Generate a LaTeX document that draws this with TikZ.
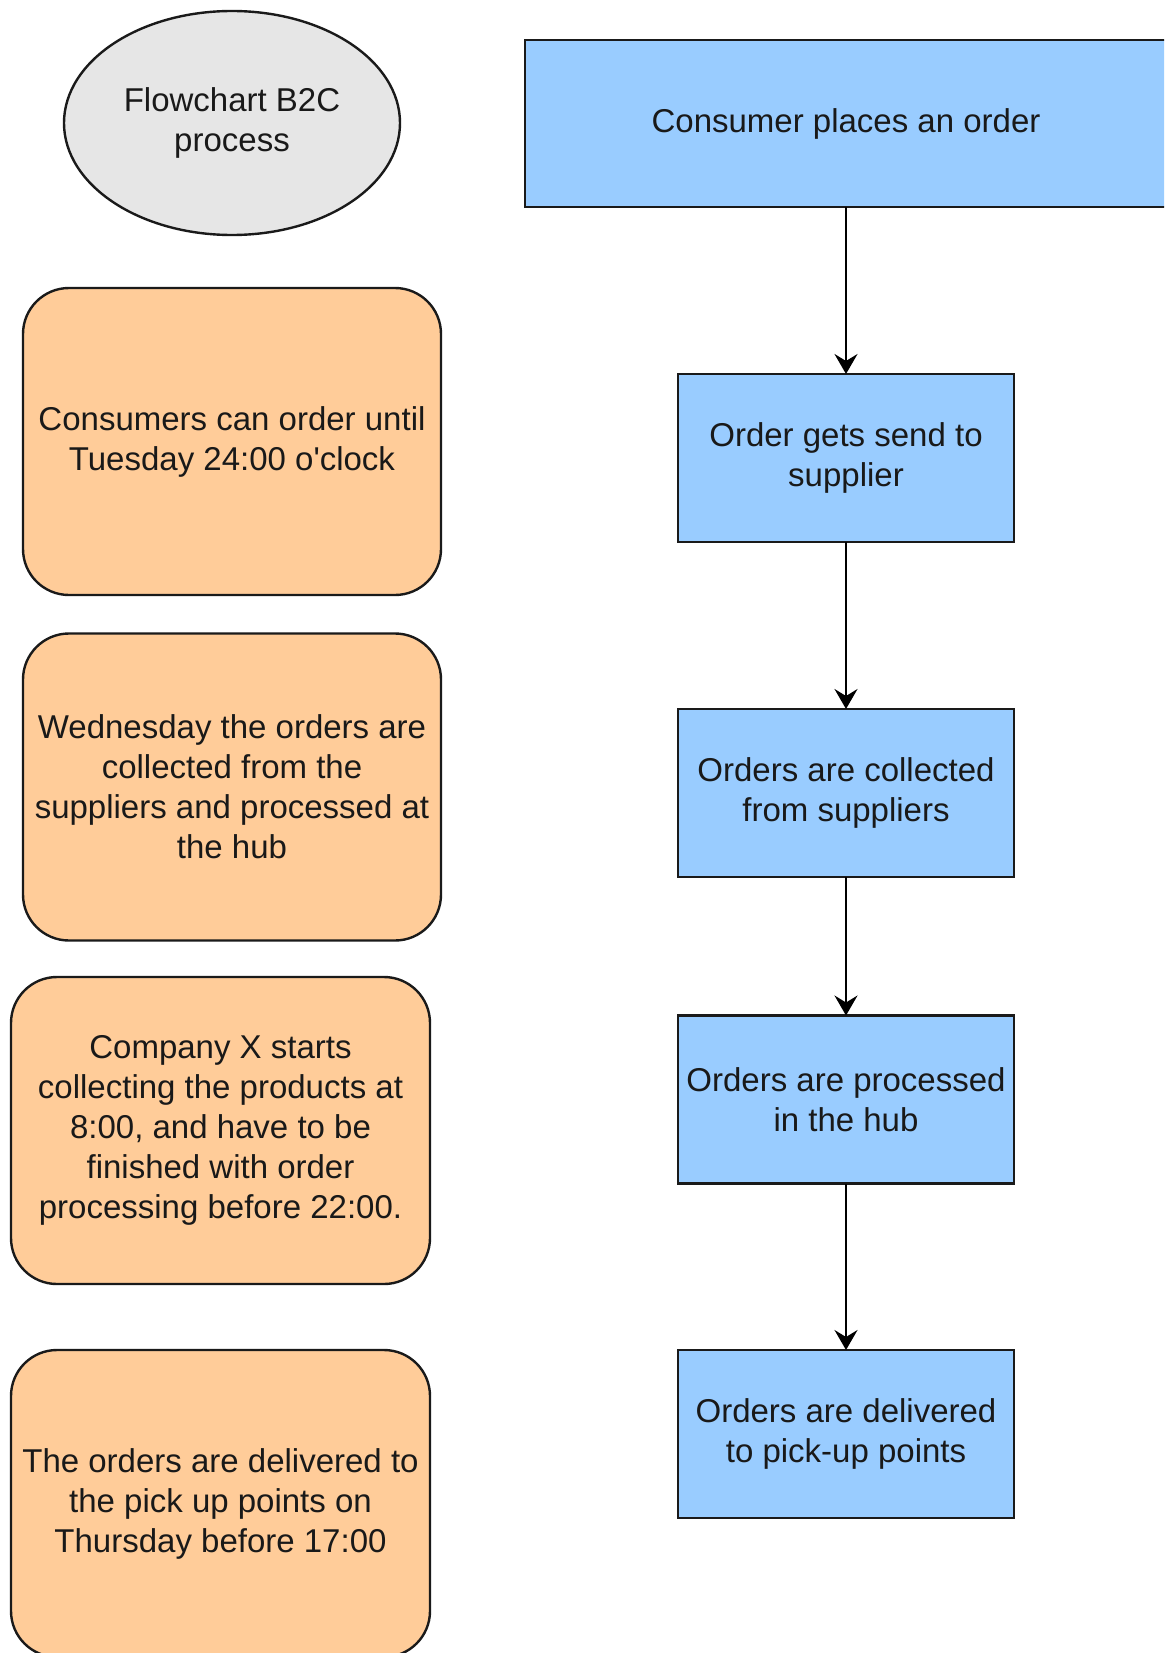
\documentclass[tikz,border=0pt]{standalone}
\usepackage{fontspec}
\newfontfamily\labelfont{Liberation Sans}
\usetikzlibrary{shapes.geometric,arrows.meta}
\definecolor{stepblue}{HTML}{99CCFF}
\definecolor{noteorange}{HTML}{FFCC99}
\definecolor{startgray}{HTML}{E6E6E6}
\definecolor{edgeline}{HTML}{1A1A1A}

\begin{document}
\begin{tikzpicture}[x=0.5pt,y=-0.5pt,
  every node/.style={font=\labelfont\fontsize{16.5}{20}\selectfont, text=black!90, align=center,
    inner sep=0pt, outer sep=0pt},
  stepbox/.style={draw=edgeline, line width=1.2pt, fill=stepblue, rectangle,
    minimum width=168pt, minimum height=84pt},
  notebox/.style={draw=edgeline, line width=1.2pt, fill=noteorange, rectangle,
    rounded corners=23pt, minimum width=209pt, minimum height=153.5pt},
  startnode/.style={draw=edgeline, line width=1.2pt, fill=startgray, ellipse,
    minimum width=168pt, minimum height=112pt},
  flow/.style={draw=black, line width=1.1pt, -{Stealth[length=10pt,width=11.5pt,inset=3.5pt]}}
]
\clip (0,0) rectangle (1164,1653);
\fill[white] (0,0) rectangle (1164,1653);

% title ellipse
\node[startnode] (title) at (232,123) {Flowchart B2C\\process};

% main process column
\node[stepbox, minimum width=321pt, minimum height=83.5pt] (order) at (846,123.5) {Consumer places an order};
\node[stepbox] (send) at (846,458) {Order gets send to\\supplier};
\node[stepbox] (collect) at (846,793) {Orders are collected\\from suppliers};
\node[stepbox] (hub) at (846,1099.5) {Orders are processed\\in the hub};
\node[stepbox] (deliver) at (846,1434) {Orders are delivered\\to pick-up points};

% timing notes
\node[notebox] (n1) at (232,441.5) {Consumers can order until\\Tuesday 24:00 o'clock};
\node[notebox] (n2) at (232,787) {Wednesday the orders are\\collected from the\\suppliers and processed at\\the hub};
\node[notebox, minimum width=209.5pt] (n3) at (220.5,1130.5) {Company X starts\\collecting the products at\\8:00, and have to be\\finished with order\\processing before 22:00.};
\node[notebox, minimum width=209.5pt] (n4) at (220.5,1503.5) {The orders are delivered to\\the pick up points on\\Thursday before 17:00};

% connectors
\draw[flow] (order) -- (send);
\draw[flow] (send) -- (collect);
\draw[flow] (collect) -- (hub);
\draw[flow] (hub) -- (deliver);
\end{tikzpicture}
\end{document}
